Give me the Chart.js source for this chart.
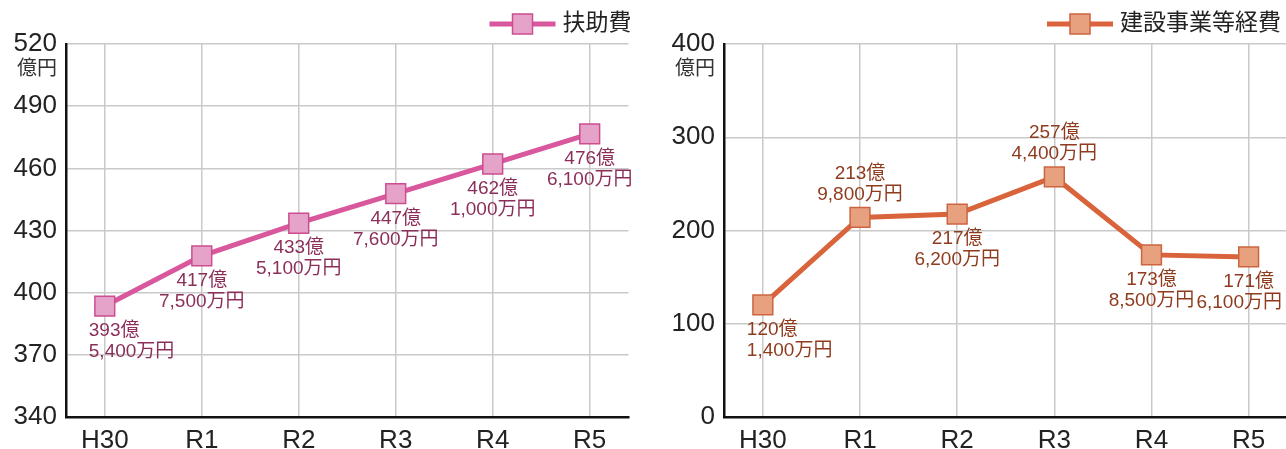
<!DOCTYPE html>
<html lang="ja">
<head>
<meta charset="utf-8">
<title>扶助費・建設事業等経費</title>
<script src="https://cdn.jsdelivr.net/npm/chart.js@4.4.1/dist/chart.umd.min.js"></script>
<style>
  body { margin: 0; background: #fff; overflow: hidden; }
  #contIzq { position: absolute; left: 0; top: 0; }
  #contDer { position: absolute; left: 658px; top: 0; }
</style>
</head>
<body>
<!-- el canvas es algo mas ancho: Chart.js deja media etiqueta "R5" de margen a la derecha -->
<div id="contIzq"><canvas id="graficoFujo" width="644" height="456"></canvas></div>
<div id="contDer"><canvas id="graficoKensetsu" width="645" height="456"></canvas></div>
<script>
// datos (億円)
const anios = ['H30', 'R1', 'R2', 'R3', 'R4', 'R5'];
const fujohi = [393.54, 417.75, 433.51, 447.76, 462.10, 476.61];
const kensetsu = [120.14, 213.98, 217.62, 257.44, 173.85, 171.61];
const ticksFujo = { min: 340, max: 520, paso: 30 };
const ticksKensetsu = { min: 0, max: 400, paso: 100 };
// donde va cada etiqueta respecto al punto
const posFujo = ['below', 'below', 'below', 'below', 'below', 'below'];
const posKensetsu = ['below', 'above', 'below', 'above', 'below', 'below'];

const fuente = '"Liberation Sans", "Noto Sans CJK JP", sans-serif';

function formatea(v) {
  var oku = Math.floor(v);
  var man = Math.round((v - oku) * 10000);
  return [oku + '億', man.toLocaleString('en-US') + '万円'];
}

// etiquetas de valor junto a cada punto
const pluginEtiquetas = {
  id: 'etiquetas',
  afterDatasetsDraw(chart, args, opts) {
    var ctx = chart.ctx;
    var meta = chart.getDatasetMeta(0);
    var valores = chart.data.datasets[0].data;
    ctx.save();
    ctx.font = '19px ' + fuente;
    ctx.fillStyle = opts.color;
    ctx.textBaseline = 'middle';
    meta.data.forEach(function(p, i) {
      var txt = formatea(valores[i].y);
      var y1, y2;
      if (opts.pos[i] === 'above') {
        y1 = p.y - 44; y2 = p.y - 23;
      } else {
        y1 = p.y + 25; y2 = p.y + 46;
      }
      [y1, y2].forEach(function(yy, k) {
        var x = p.x;
        if (i === 0) {
          ctx.textAlign = 'left';
          x = p.x - 16;
        } else {
          ctx.textAlign = 'center';
          var w = ctx.measureText(txt[k]).width;
          // que no se salga por la derecha
          if (x + w / 2 > opts.visible - 4) x = opts.visible - 4 - w / 2;
        }
        ctx.fillText(txt[k], x, yy);
      });
    });
    ctx.restore();
  }
};

// leyenda dibujada a mano (linea + cuadrado + texto)
const pluginLeyenda = {
  id: 'leyendaPropia',
  afterDraw(chart, args, opts) {
    var ctx = chart.ctx;
    var ds = chart.data.datasets[0];
    var derecha = Math.min(chart.chartArea.right + 3, opts.visible - 5);
    var yc = 24;
    ctx.save();
    ctx.font = '23px ' + fuente;
    ctx.fillStyle = '#222';
    ctx.textAlign = 'right';
    ctx.textBaseline = 'middle';
    ctx.fillText(ds.label, derecha, yc);
    var ancho = ctx.measureText(ds.label).width;
    var fin = derecha - ancho - 7;
    var ini = fin - 66;
    ctx.strokeStyle = ds.borderColor;
    ctx.lineWidth = 5;
    ctx.beginPath();
    ctx.moveTo(ini, yc);
    ctx.lineTo(fin, yc);
    ctx.stroke();
    var mid = (ini + fin) / 2;
    ctx.fillStyle = ds.pointBackgroundColor;
    ctx.strokeStyle = ds.pointBorderColor;
    ctx.lineWidth = 1.5;
    ctx.fillRect(mid - 10, yc - 10, 20, 20);
    ctx.strokeRect(mid - 10, yc - 10, 20, 20);
    ctx.restore();
  }
};

// unidad 億円 debajo del tick superior
const pluginUnidad = {
  id: 'unidad',
  afterDraw(chart) {
    var ctx = chart.ctx;
    var y = chart.scales.y;
    ctx.save();
    ctx.font = '20px ' + fuente;
    ctx.fillStyle = '#333';
    ctx.textAlign = 'right';
    ctx.textBaseline = 'middle';
    ctx.fillText('億円', y.right - 9, y.getPixelForValue(y.max) + 25);
    ctx.restore();
  }
};

function crearGrafico(idCanvas, etiqueta, valores, rango, pos, colores, anchoVisible) {
  var canvas = document.getElementById(idCanvas);
  var ctx = canvas.getContext('2d');
  var puntos = valores.map(function(v, i) { return { x: i, y: v }; });

  return new Chart(ctx, {
    type: 'line',
    data: {
      datasets: [{
        label: etiqueta,
        data: puntos,
        borderColor: colores.linea,
        borderWidth: 5,
        pointStyle: 'rect',
        pointRadius: 14,
        pointBackgroundColor: colores.relleno,
        pointBorderColor: colores.borde,
        pointBorderWidth: 1.5,
        tension: 0
      }]
    },
    options: {
      responsive: false,
      animation: false,
      layout: { padding: { top: 44, right: 0, left: 0, bottom: 0 } },
      plugins: {
        legend: { display: false },
        tooltip: { enabled: false },
        etiquetas: { color: colores.texto, pos: pos, visible: anchoVisible },
        leyendaPropia: { visible: anchoVisible }
      },
      scales: {
        x: {
          type: 'linear',
          min: -0.4,
          max: 5.4,
          afterBuildTicks: function(s) {
            s.ticks = anios.map(function(a, i) { return { value: i }; });
          },
          afterFit: function(s) { s.height = 39; },
          ticks: {
            padding: 8,
            color: '#222',
            font: { size: 26, family: fuente },
            callback: function(v) { return anios[v]; }
          },
          grid: { color: '#c9c9c9', lineWidth: 1.5, drawTicks: false },
          border: { color: '#111', width: 2.5 }
        },
        y: {
          min: rango.min,
          max: rango.max,
          afterFit: function(s) { s.width = 66; },
          ticks: {
            stepSize: rango.paso,
            padding: 9,
            color: '#222',
            font: { size: 26, family: fuente }
          },
          grid: { color: '#c9c9c9', lineWidth: 1.5, drawTicks: false },
          border: { color: '#111', width: 2.5 }
        }
      }
    },
    plugins: [pluginEtiquetas, pluginLeyenda, pluginUnidad]
  });
}

var graficoFujo = crearGrafico('graficoFujo', '扶助費', fujohi, ticksFujo, posFujo,
  { linea: '#d9589d', relleno: '#e6a3c9', borde: '#cc4d90', texto: '#8c2e5a' }, 644);
var graficoKensetsu = crearGrafico('graficoKensetsu', '建設事業等経費', kensetsu, ticksKensetsu, posKensetsu,
  { linea: '#d9633a', relleno: '#e8a17f', borde: '#cc6440', texto: '#8e3b1e' }, 628);
</script>
</body>
</html>
